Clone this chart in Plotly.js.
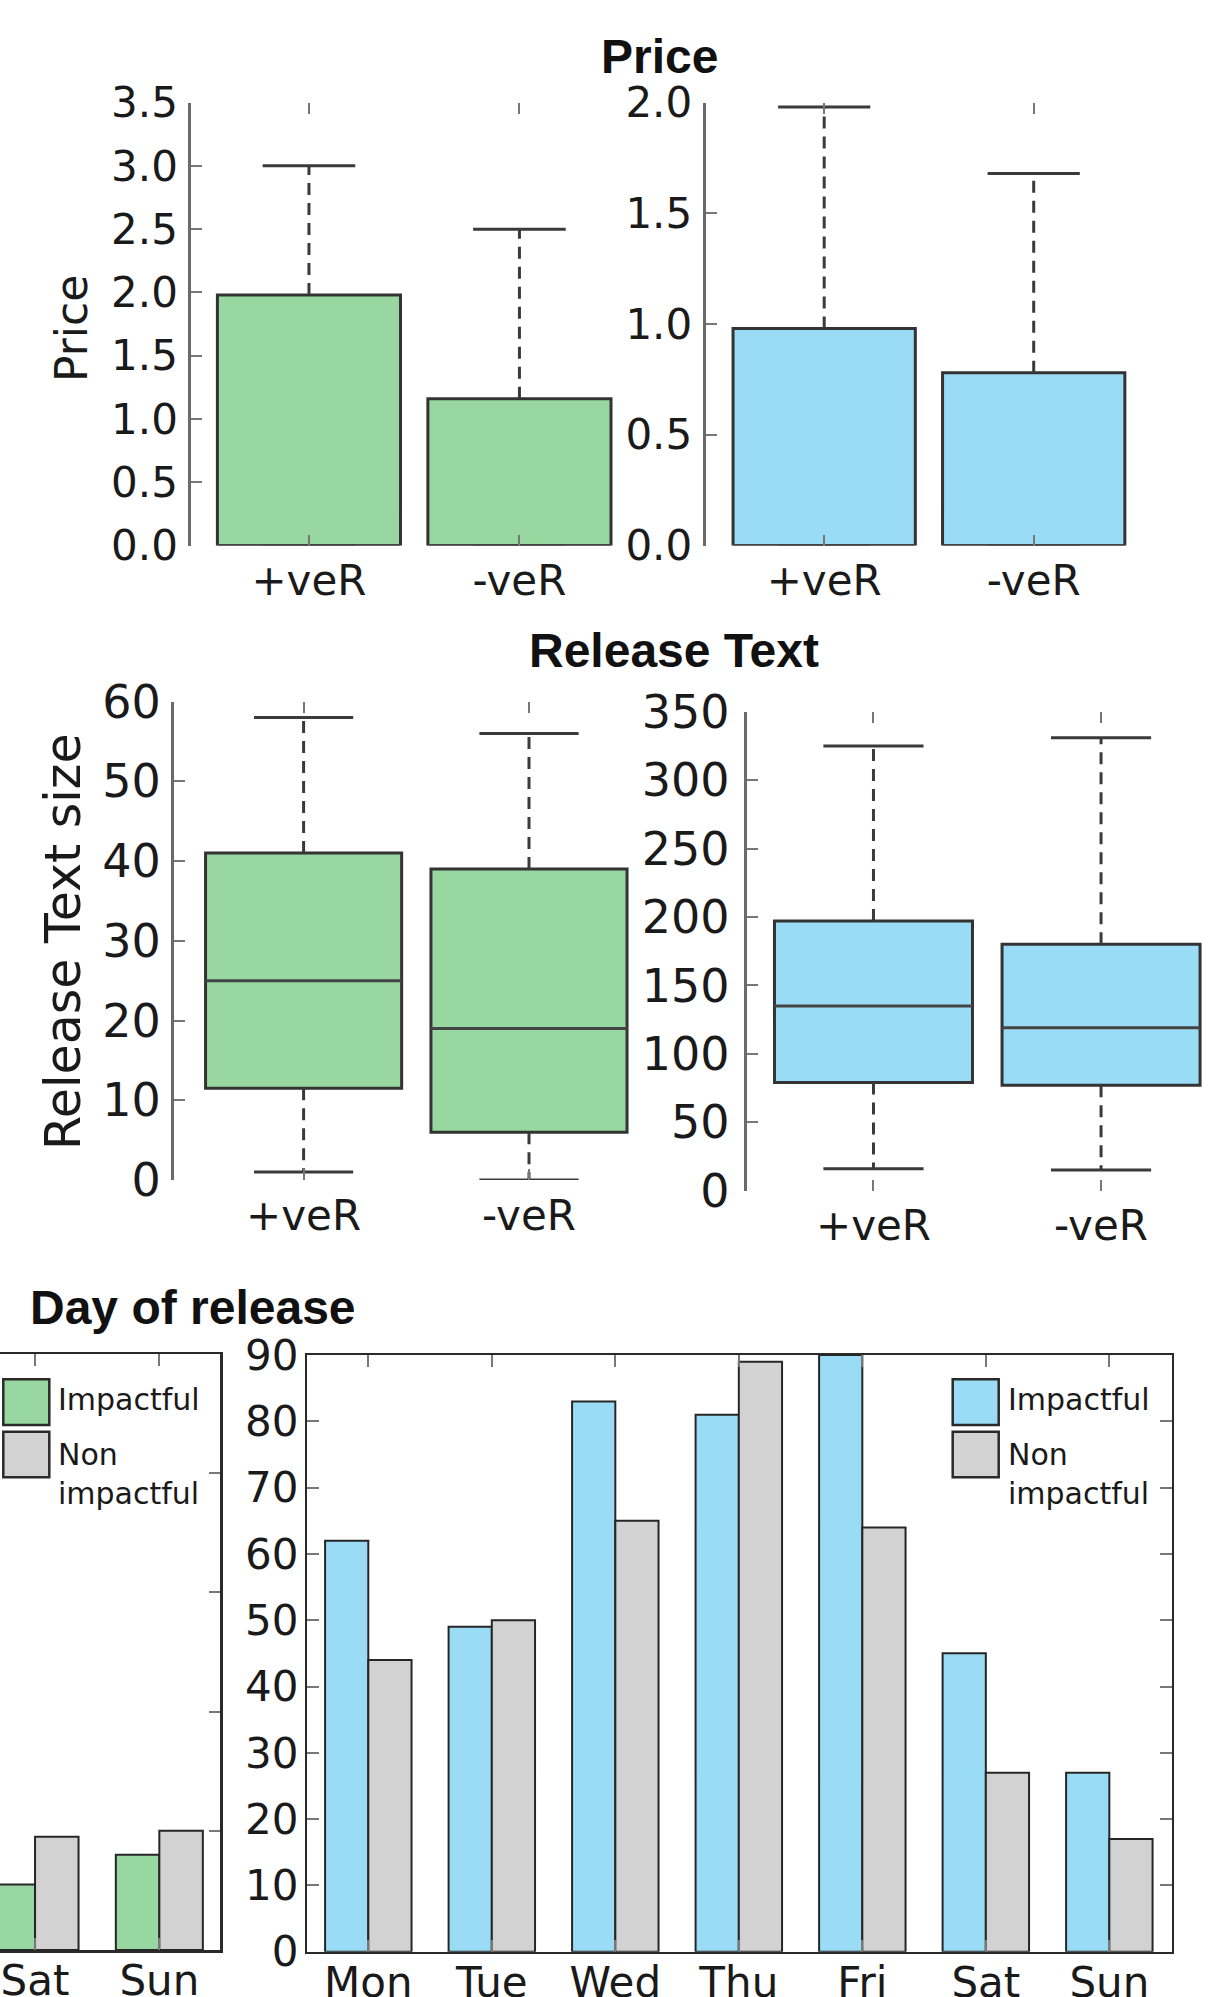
<!DOCTYPE html>
<html>
<head>
<meta charset="utf-8">
<script src="https://cdn.plot.ly/plotly-3.0.1.min.js"></script>
<style>
html,body{margin:0;padding:0;background:#ffffff;}
#chart{width:1225px;height:1997px;}
</style>
</head>
<body>
<div id="chart"></div>
<script>
// ================= DATA =================
const groups = ['+veR', '-veR'];

// Price (green set)
const priceGreenLow    = [0, 0];
const priceGreenQ1     = [0, 0];
const priceGreenMedian = [0, 0];
const priceGreenQ3     = [1.98, 1.16];
const priceGreenHigh   = [3.0, 2.5];

// Price (blue set)
const priceBlueLow    = [0, 0];
const priceBlueQ1     = [0, 0];
const priceBlueMedian = [0, 0];
const priceBlueQ3     = [0.98, 0.78];
const priceBlueHigh   = [1.98, 1.68];

// Release text size (green set)
const textGreenLow    = [1, 0];
const textGreenQ1     = [11.5, 6];
const textGreenMedian = [25, 19];
const textGreenQ3     = [41, 39];
const textGreenHigh   = [58, 56];

// Release text size (blue set)
const textBlueLow    = [16, 15];
const textBlueQ1     = [79, 77];
const textBlueMedian = [135, 119];
const textBlueQ3     = [197, 180];
const textBlueHigh   = [325, 331];

// Day of release
const days = ['Mon', 'Tue', 'Wed', 'Thu', 'Fri', 'Sat', 'Sun'];
const dayImpactful    = [62, 49, 83, 81, 90, 45, 27];
const dayNonImpactful = [44, 50, 65, 89, 64, 27, 17];

const weekendDays = ['Sat', 'Sun'];
const weekendImpactful    = [11, 16];
const weekendNonImpactful = [19, 20];

const legendLabels = ['Impactful', 'Non<br>impactful'];
const titles = ['Price', 'Release Text', 'Day of release'];
const yTitles = ['Price', 'Release Text size'];

// ================= STYLE =================
const W = 1225, H = 1997;
const fx = p => p / W;
const fy = p => 1 - p / H;
const GREEN = '#98d8a0';
const BLUE = '#9adcf5';
const GREY = '#d2d2d2';
const TXT = '#1a1a1a';
const FONT = 'DejaVu Sans';
const BOLD = 'Liberation Sans';
const BOX_W = 0.87;
const CAP_W = 0.44;

function boxTraces(xa, ya, low, q1, med, q3, high, fill) {
  const pos = groups.map((_, i) => i);
  const h = BOX_W / 2, c = CAP_W / 2;
  const wx = [], wy = [], cx = [], cy = [], mx = [], my = [];
  pos.forEach((p, i) => {
    wx.push(p, p, null, p, p, null);
    wy.push(q3[i], high[i], null, q1[i], low[i], null);
    cx.push(p - c, p + c, null, p - c, p + c, null);
    cy.push(high[i], high[i], null, low[i], low[i], null);
    mx.push(p - h, p + h, null);
    my.push(med[i], med[i], null);
  });
  const common = {xaxis: xa, yaxis: ya, hoverinfo: 'skip', showlegend: false};
  return [
    Object.assign({type: 'scatter', mode: 'lines', x: wx, y: wy,
      line: {color: '#3a3a3a', width: 3, dash: '12px,8px'}}, common),
    Object.assign({type: 'scatter', mode: 'lines', x: cx, y: cy,
      line: {color: '#3a3a3a', width: 3}}, common),
    Object.assign({type: 'bar', x: pos, base: q1, y: q3.map((v, i) => v - q1[i]), width: BOX_W,
      marker: {color: fill, line: {color: '#333333', width: 3}}}, common),
    Object.assign({type: 'scatter', mode: 'lines', x: mx, y: my,
      line: {color: '#444444', width: 3}}, common)
  ];
}

function boxX(domainPx, range, anchor, standoff) {
  return {domain: [fx(domainPx[0]), fx(domainPx[1])], range: range, anchor: anchor,
    tickmode: 'array', tickvals: [0, 1], ticktext: groups,
    ticks: 'inside', ticklen: 11, tickwidth: 2, tickcolor: '#777',
    showline: false, mirror: 'ticks', showgrid: false, zeroline: false,
    tickfont: {family: FONT, size: 42, color: TXT}, ticklabelstandoff: standoff};
}
function boxY(domainPx, range, anchor, dtick, fmt, size, standoff) {
  return {domain: [fy(domainPx[1]), fy(domainPx[0])], range: range, anchor: anchor,
    dtick: dtick, tick0: 0, tickformat: fmt,
    ticks: 'inside', ticklen: 11, tickwidth: 2, tickcolor: '#777',
    showline: true, linecolor: '#6a6a6a', linewidth: 3, showgrid: false, zeroline: false,
    tickfont: {family: FONT, size: size, color: TXT}, ticklabelstandoff: standoff};
}

let data = [];
data = data.concat(boxTraces('x', 'y', priceGreenLow, priceGreenQ1, priceGreenMedian, priceGreenQ3, priceGreenHigh, GREEN));
data = data.concat(boxTraces('x2', 'y2', priceBlueLow, priceBlueQ1, priceBlueMedian, priceBlueQ3, priceBlueHigh, BLUE));
data = data.concat(boxTraces('x3', 'y3', textGreenLow, textGreenQ1, textGreenMedian, textGreenQ3, textGreenHigh, GREEN));
data = data.concat(boxTraces('x4', 'y4', textBlueLow, textBlueQ1, textBlueMedian, textBlueQ3, textBlueHigh, BLUE));

const barLine = {color: '#262626', width: 2};
data.push({type: 'bar', x: weekendDays, y: weekendImpactful, xaxis: 'x5', yaxis: 'y5',
  marker: {color: GREEN, line: barLine}, showlegend: false, hoverinfo: 'skip'});
data.push({type: 'bar', x: weekendDays, y: weekendNonImpactful, xaxis: 'x5', yaxis: 'y5',
  marker: {color: GREY, line: barLine}, showlegend: false, hoverinfo: 'skip'});
data.push({type: 'bar', x: days, y: dayImpactful, xaxis: 'x6', yaxis: 'y6',
  marker: {color: BLUE, line: barLine}, showlegend: false, hoverinfo: 'skip'});
data.push({type: 'bar', x: days, y: dayNonImpactful, xaxis: 'x6', yaxis: 'y6',
  marker: {color: GREY, line: barLine}, showlegend: false, hoverinfo: 'skip'});

const frameX = (domainPx, range, cats, anchor) => ({
  domain: [fx(domainPx[0]), fx(domainPx[1])], range: range, anchor: anchor,
  type: 'category', categoryarray: cats,
  ticks: 'inside', ticklen: 12, tickwidth: 2, tickcolor: '#777',
  showline: true, linecolor: '#2a2a2a', linewidth: 2.5, mirror: 'ticks',
  showgrid: false, zeroline: false,
  tickfont: {family: FONT, size: 42, color: TXT}, ticklabelstandoff: -8});

const layout = {
  width: W, height: H,
  margin: {l: 0, r: 0, t: 0, b: 0, pad: 0},
  paper_bgcolor: '#ffffff', plot_bgcolor: 'rgba(0,0,0,0)',
  showlegend: false,
  barmode: 'group', bargap: 0.3, bargroupgap: 0,
  xaxis:  boxX([191.3, 637.1], [-0.559, 1.559], 'y', 6),
  yaxis:  boxY([102.6, 545.5], [0, 3.5], 'x', 0.5, '.1f', 42, 2),
  xaxis2: boxX([705.6, 1152.3], [-0.566, 1.566], 'y2', 6),
  yaxis2: boxY([102.6, 545.5], [0, 2.0], 'x2', 0.5, '.1f', 42, 2),
  xaxis3: boxX([174, 658.6], [-0.575, 1.575], 'y3', 7),
  yaxis3: boxY([701.6, 1180], [0, 60], 'x3', 10, 'd', 46, 1),
  xaxis4: boxX([746.7, 1219.4], [-0.557, 1.52], 'y4', 6),
  yaxis4: boxY([711.8, 1190.6], [0, 350], 'x4', 50, 'd', 46, 5),
  xaxis5: frameX([0, 220], [-0.282, 1.488], weekendDays, 'y5'),
  yaxis5: {domain: [fy(1950), fy(1354)], range: [0, 100], dtick: 20, anchor: 'x5', side: 'right',
    showticklabels: false, ticks: 'inside', ticklen: 11, tickwidth: 2, tickcolor: '#777',
    showline: true, linecolor: '#2a2a2a', linewidth: 2.5, showgrid: false, zeroline: false},
  xaxis6: frameX([307.3, 1171.7], [-0.494, 6.505], days, 'y6'),
  yaxis6: {domain: [fy(1951.7), fy(1355)], range: [0, 90], dtick: 10, anchor: 'x6',
    ticks: 'inside', ticklen: 12, tickwidth: 2, tickcolor: '#777',
    showline: true, linecolor: '#2a2a2a', linewidth: 2.5, mirror: 'ticks',
    showgrid: false, zeroline: false,
    tickfont: {family: FONT, size: 42, color: TXT}, ticklabelstandoff: -2},
  shapes: [],
  annotations: []
};

// subplot titles
const titleFont = {family: BOLD, size: 48, color: '#111', weight: 700};
[[titles[0], 659, 56], [titles[1], 673.6, 650.5], [titles[2], 193, 1307]].forEach(t => {
  layout.annotations.push({text: t[0], xref: 'paper', yref: 'paper', x: fx(t[1]), y: fy(t[2]),
    xanchor: 'center', yanchor: 'middle', showarrow: false, font: titleFont});
});
// y axis titles
[[yTitles[0], 71, 329, 44], [yTitles[1], 64, 942, 49]].forEach(t => {
  layout.annotations.push({text: t[0], xref: 'paper', yref: 'paper', x: fx(t[1]), y: fy(t[2]),
    xanchor: 'center', yanchor: 'middle', textangle: -90, showarrow: false,
    font: {family: FONT, size: t[3], color: TXT}});
});
// legends (manual, large swatches)
function addLegend(x0, fillA) {
  const sw = 46;
  const rows = [[1379.3, 1425, fillA], [1431.7, 1477.3, GREY]];
  rows.forEach(r => {
    layout.shapes.push({type: 'rect', xref: 'paper', yref: 'paper',
      x0: fx(x0), x1: fx(x0 + sw), y0: fy(r[1]), y1: fy(r[0]),
      fillcolor: r[2], line: {color: '#2a2a2a', width: 2.5}});
  });
  layout.annotations.push({text: legendLabels[0], xref: 'paper', yref: 'paper',
    x: fx(x0 + 53), y: fy(1399), xanchor: 'left', yanchor: 'middle', showarrow: false,
    font: {family: FONT, size: 30, color: TXT}});
  layout.annotations.push({text: legendLabels[1], xref: 'paper', yref: 'paper',
    x: fx(x0 + 53), y: fy(1474), xanchor: 'left', yanchor: 'middle', align: 'left', showarrow: false,
    font: {family: FONT, size: 30, color: TXT}});
}
addLegend(3.3, GREEN);
addLegend(952.7, BLUE);

Plotly.newPlot('chart', data, layout, {staticPlot: true, displayModeBar: false});
</script>
</body>
</html>
